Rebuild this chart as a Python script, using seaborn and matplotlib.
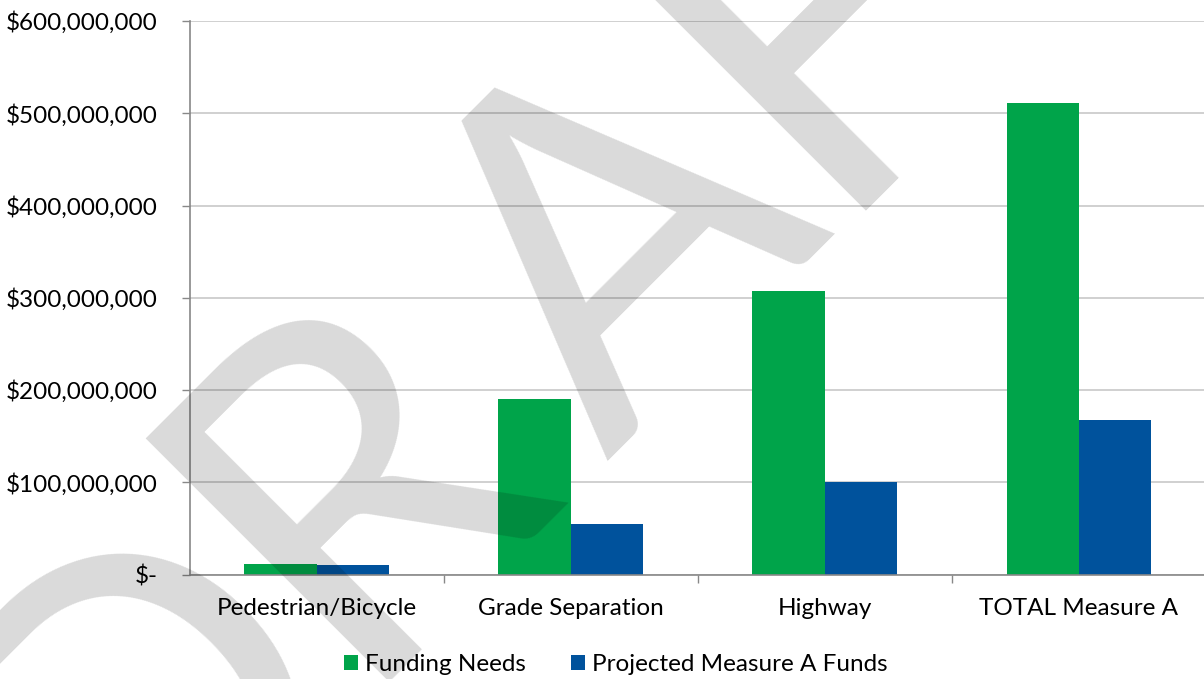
import matplotlib
matplotlib.use("Agg")
import matplotlib.pyplot as plt
import seaborn as sns
import pandas as pd
import numpy as np
from matplotlib.ticker import FuncFormatter

categories = ["Pedestrian/Bicycle", "Grade Separation", "Highway", "TOTAL Measure A"]
funding_needs = [11.5e6, 190e6, 307.7e6, 511.3e6]
projected_funds = [10.4e6, 54.6e6, 100.5e6, 167e6]
series_names = ["Funding Needs", "Projected Measure A Funds"]
colors = ["#00A44A", "#00529C"]

df = pd.DataFrame({
    "category": categories * 2,
    "series": [series_names[0]] * 4 + [series_names[1]] * 4,
    "value": funding_needs + projected_funds,
})

sns.set_theme(style="white")
plt.rcParams["font.family"] = ["Lato", "DejaVu Sans"]

W, H = 1204, 679
FS = 17.5
fig = plt.figure(figsize=(W / 100, H / 100), dpi=100)
ax = fig.add_axes([189.5 / W, (H - 574.5) / H, (1206 - 189.5) / W, (574.5 - 21) / H])

sns.barplot(data=df, x="category", y="value", hue="series", palette=colors,
            width=0.57, saturation=1, ax=ax, legend=True, gap=0, linewidth=0)

ax.set_ylim(0, 600e6)
ax.set_yticks([i * 100e6 for i in range(7)])

def fmt(v, pos):
    if v == 0:
        return "$-"
    return "${:,.0f}".format(v)

ax.yaxis.set_major_formatter(FuncFormatter(fmt))
ax.set_xlabel("")
ax.set_ylabel("")
ax.grid(axis="y", color="#C8C8C8", linewidth=1.2)
ax.set_axisbelow(True)
for s in ["top", "right"]:
    ax.spines[s].set_visible(False)
for s in ["left", "bottom"]:
    ax.spines[s].set_color("#888888")
    ax.spines[s].set_linewidth(1.2)

ax.tick_params(axis="y", which="major", left=True, length=6, width=1, color="#888888",
               labelsize=FS, pad=17, labelcolor="#000000")
ax.set_xticks([0, 1, 2, 3])
ax.set_xticklabels(categories)
ax.tick_params(axis="x", which="major", bottom=False, labelsize=FS, pad=11, labelcolor="#000000")
ax.set_xticks([0.5, 1.5, 2.5], minor=True)
ax.tick_params(axis="x", which="minor", bottom=True, length=6, width=1, color="#888888")
ax.set_xlim(-0.5, 3.5)

leg = ax.legend(loc="center", bbox_to_anchor=((616 - 189.5) / (1206 - 189.5), -0.163),
                ncol=2, frameon=False, fontsize=FS, handlelength=0.58, handleheight=0.58,
                handletextpad=0.3, columnspacing=1.85, borderpad=0)
for t in leg.get_texts():
    t.set_color("#000000")

# DRAFT watermark: letters laid along a 45-degree baseline (pixel geometry)
wm_letters = "DRAFT"
wm_offsets = [-404, -88, 265.5, 568, 835]   # position of each letter along baseline, px
wm_lift = [15, 40, 0, 35, 35]               # small per-letter baseline adjustments, px
base_c = 1068.0                              # baseline: x + y = base_c (image px)
for ch, t, lift in zip(wm_letters, wm_offsets, wm_lift):
    c = base_c - lift
    px = (c + np.sqrt(2) * t) / 2
    py = (c - np.sqrt(2) * t) / 2
    fig.text(px / W, 1 - py / H, ch, fontsize=345, color="black", alpha=0.15,
             rotation=45, ha="center", va="baseline", rotation_mode="anchor",
             family=["Lato", "DejaVu Sans"])

fig.savefig("out.png", dpi=100)
